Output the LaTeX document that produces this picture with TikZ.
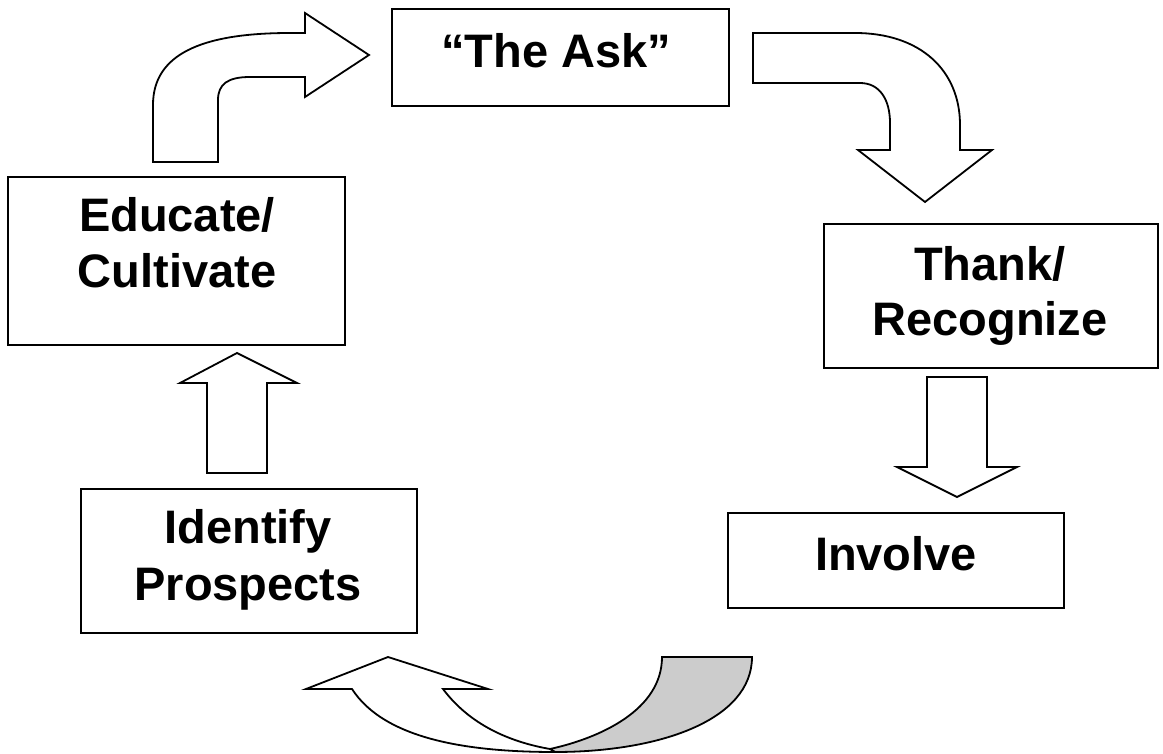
\documentclass[tikz,border=0pt]{standalone}
\usepackage{fontspec}
\setmainfont{Liberation Sans}
\begin{document}
\begin{tikzpicture}[x=1pt,y=-1pt,
  box/.style={draw=black, line width=2pt, fill=white, rectangle, inner sep=0pt},
  lbl/.style={font=\fontsize{47}{56}\selectfont\bfseries, inner sep=0pt, anchor=base},
  blockarrow/.style={draw=black, line width=1.8pt, fill=white, line join=miter},
  backside/.style={draw=black, line width=1.8pt, fill=black!20, line join=miter}
]
\useasboundingbox (0,0) rectangle (1163,754);

% boxes
\node[box, minimum width=337pt, minimum height=97pt] (ask) at (560.5,57.5) {};
\node[lbl] (askt) at (556,68) {“The Ask”};

\node[box, minimum width=337pt, minimum height=168pt] (edu) at (176.5,261) {};
\node[lbl] (edut1) at (177,232) {Educate/};
\node[lbl] (edut2) at (177,288) {Cultivate};

\node[box, minimum width=334pt, minimum height=144pt] (thank) at (990.5,296) {};
\node[lbl] (thankt1) at (990,281) {Thank/};
\node[lbl] (thankt2) at (990,336) {Recognize};

\node[box, minimum width=336pt, minimum height=95pt] (inv) at (896,560.5) {};
\node[lbl] (invt) at (896,570) {Involve};

\node[box, minimum width=336pt, minimum height=144pt] (ident) at (249,561) {};
\node[lbl] (identt1) at (248,543) {Identify};
\node[lbl] (identt2) at (248,600) {Prospects};

% top-left bent arrow (Educate -> The Ask)
\draw[blockarrow] (153,162) -- (153,105) .. controls (153,55) and (200,33) .. (290,33)
  -- (305,33) -- (305,13) -- (369,55) -- (305,97) -- (305,77) -- (250,77)
  .. controls (228,77) and (218,84) .. (218,100) -- (218,162) -- cycle;

% top-right bent arrow (The Ask -> Thank)
\draw[blockarrow] (753,33) -- (855,33) .. controls (920,33) and (960,70) .. (960,125)
  -- (960,150) -- (992,150) -- (925,202) -- (858,150) -- (890,150) -- (890,123)
  .. controls (890,100) and (880,83) .. (860,83) -- (753,83) -- cycle;

% down arrow (Thank -> Involve)
\draw[blockarrow] (927,377) -- (987,377) -- (987,467) -- (1017,467) -- (957,497)
  -- (897,467) -- (927,467) -- cycle;

% up arrow (Identify -> Educate)
\draw[blockarrow] (207,473) -- (207,383) -- (180,383) -- (237,353) -- (297,383)
  -- (267,383) -- (267,473) -- cycle;

% bottom curved arrow (Involve -> Identify)
\draw[backside] (662,657) -- (752,657) .. controls (752,720) and (660,752) .. (555,752)
  -- (550,749) .. controls (600,738) and (662,710) .. (662,657) -- cycle;
\draw[blockarrow] (306,689) -- (388,657) -- (488,689) -- (443,689)
  .. controls (470,725) and (510,742) .. (550,749) -- (555,752)
  .. controls (470,752) and (385,740) .. (352,689) -- cycle;
\end{tikzpicture}
\end{document}
